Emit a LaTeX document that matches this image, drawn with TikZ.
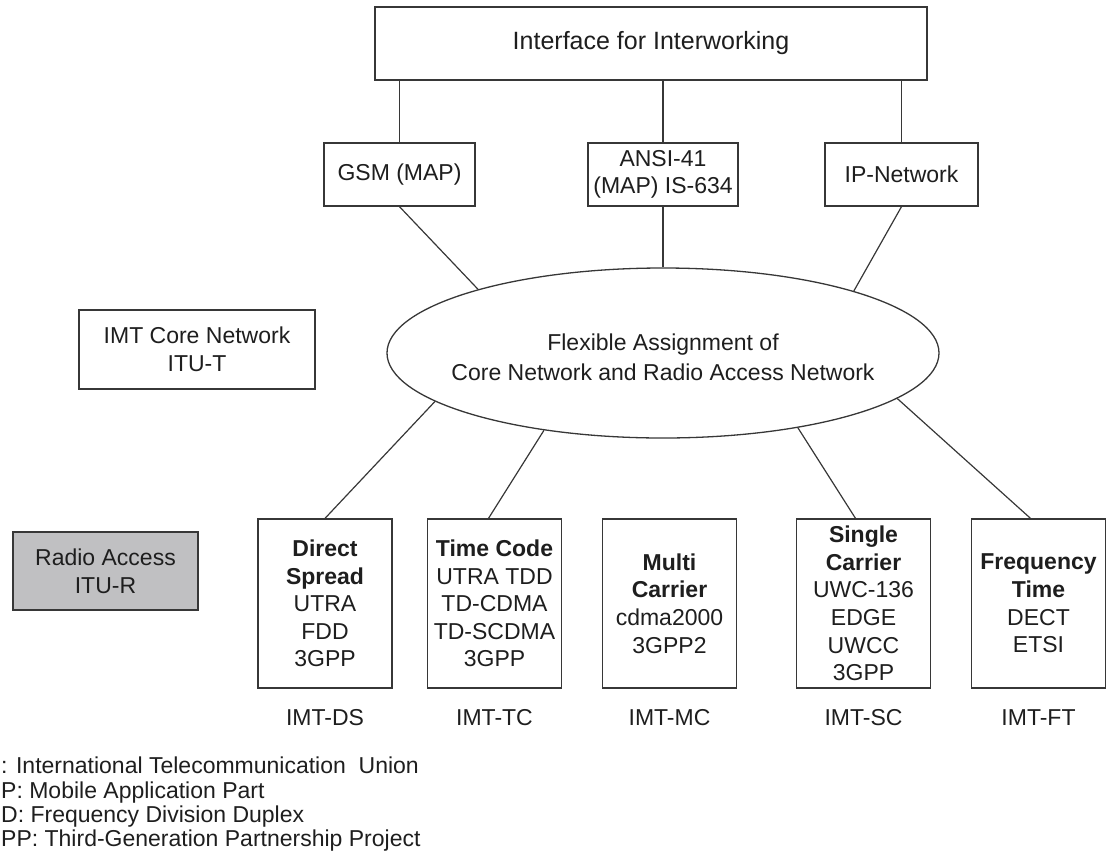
\documentclass[tikz,border=0pt]{standalone}
\usepackage{fontspec}
\setmainfont{Liberation Sans}
\usetikzlibrary{positioning,shapes.geometric}

\definecolor{linegray}{RGB}{55,55,55}
\definecolor{inkgray}{RGB}{30,30,30}
\definecolor{radiogray}{RGB}{192,192,194}

\tikzset{
	netbox/.style={draw=linegray, line width=1.3pt, fill=white, align=center, inner sep=2pt, text=inkgray, font=\fontsize{23}{27.6}\selectfont},
	imtbox/.style={netbox, minimum width=134pt, minimum height=169pt},
	imtlabel/.style={inner sep=0pt, text=inkgray, font=\fontsize{23}{27.6}\selectfont},
	legendline/.style={anchor=base west, inner sep=0pt, text=inkgray, font=\fontsize{23}{27.6}\selectfont},
	link/.style={draw=linegray, line width=1.2pt}
}

\begin{document}
\begin{tikzpicture}[x=1pt,y=-1pt]
			\useasboundingbox (0,0) rectangle (1109,863);
			
			% core side
			\node[netbox, minimum width=552pt, minimum height=73pt, font=\fontsize{25}{30}\selectfont] (iw) at (651, 43.5) {Interface for Interworking};
			\node[netbox, minimum width=151pt, minimum height=63pt] (gsm) at (399.5, 174.5) {GSM (MAP)};
			\node[netbox, minimum width=150pt, minimum height=63pt] (ansi) at (663, 174.5) {ANSI-41\\(MAP) IS-634};
			\node[netbox, minimum width=153pt, minimum height=63pt] (ip) at (901.5, 174.5) {IP-Network};
			\node[netbox, minimum width=236pt, minimum height=79pt] (core) at (197, 349.5) {IMT Core Network\\ITU-T};
			\node[netbox, fill=radiogray, minimum width=185pt, minimum height=78pt] (radio) at (105.5, 571) {Radio Access\\ITU-R};
			
			\node[draw=linegray, line width=1.3pt, ellipse, inner sep=0pt, minimum width=552pt, minimum height=170pt] (flex) at (663, 353) {};
			\node[align=center, inner sep=0pt, text=inkgray, font=\fontsize{23}{30}\selectfont] (flextext) at (663, 357) {Flexible Assignment of\\Core Network and Radio Access Network};
			
			% radio side
			\node[imtbox] (ds) at (325, 603.5) {\textbf{Direct}\\\textbf{Spread}\\UTRA\\FDD\\3GPP};
			\node[imtbox] (tc) at (494.5, 603.5) {\textbf{Time Code}\\UTRA TDD\\TD-CDMA\\TD-SCDMA\\3GPP};
			\node[imtbox] (mc) at (669.5, 603.5) {\textbf{Multi}\\\textbf{Carrier}\\cdma2000\\3GPP2};
			\node[imtbox] (sc) at (863.5, 603.5) {\textbf{Single}\\\textbf{Carrier}\\UWC-136\\EDGE\\UWCC\\3GPP};
			\node[imtbox] (ft) at (1038.5, 603.5) {\textbf{Frequency}\\\textbf{Time}\\DECT\\ETSI};
			
			\node[imtlabel] (dsname) at (325, 718) {IMT-DS};
			\node[imtlabel] (tcname) at (494.5, 718) {IMT-TC};
			\node[imtlabel] (mcname) at (669.5, 718) {IMT-MC};
			\node[imtlabel] (scname) at (863.5, 718) {IMT-SC};
			\node[imtlabel] (ftname) at (1038.5, 718) {IMT-FT};
			
			\draw[link] (iw.south -| gsm.north) -- (gsm.north);
			\draw[link] (iw.south -| ansi.north) -- (ansi.north);
			\draw[link] (iw.south -| ip.north) -- (ip.north);
			\draw[link] (gsm.south) -- (flex.161.9);
			\draw[link] (ansi.south) -- (flex.north);
			\draw[link] (ip.south) -- (flex.18.8);
			\draw[link] (ds.north) -- (flex.192.5);
			\draw[link] ([xshift=-6pt]tc.north) -- (flex.213);
			\draw[link] ([xshift=-8pt]sc.north) -- (flex.331.7);
			\draw[link] ([xshift=-8pt]ft.north) -- (flex.349.6);
			
			% legend
			\node[legendline] (leg1) at (1, 773) {: International Telecommunication\ \ Union};
			\node[legendline] (leg2) at (1, 798) {P: Mobile Application Part};
			\node[legendline] (leg3) at (1, 822) {D: Frequency Division Duplex};
			\node[legendline] (leg4) at (1, 846) {PP: Third-Generation Partnership Project};
\end{tikzpicture}
\end{document}
